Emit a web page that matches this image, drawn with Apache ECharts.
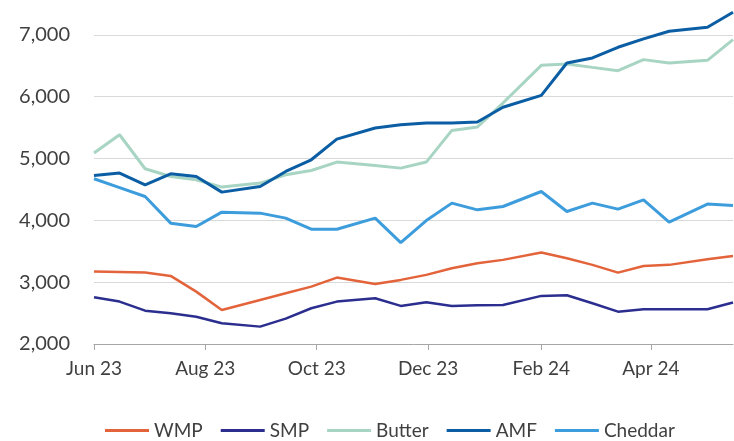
<!DOCTYPE html>
<html>
<head>
<meta charset="utf-8">
<script src="https://cdn.jsdelivr.net/npm/echarts@6/dist/echarts.min.js"></script>
<style>html,body{margin:0;padding:0;background:#fff}#c{width:734px;height:441px}</style>
</head>
<body>
<div id="c"></div>
<script>
var dates = ['2023-06-06','2023-06-20','2023-07-04','2023-07-18','2023-08-01','2023-08-15','2023-09-05','2023-09-19','2023-10-03','2023-10-17','2023-11-07','2023-11-21','2023-12-05','2023-12-19','2024-01-02','2024-01-16','2024-02-06','2024-02-20','2024-03-05','2024-03-19','2024-04-02','2024-04-16','2024-05-07','2024-05-21'];
var wmp = [3171,3163,3155,3101,2847,2551,2713,2820,2928,3074,2972,3037,3118,3226,3307,3361,3479,3388,3280,3155,3263,3280,3372,3425];
var smp = [2756,2686,2539,2496,2442,2335,2281,2410,2578,2686,2740,2616,2676,2616,2627,2632,2778,2789,2659,2523,2562,2562,2562,2670];
var butter = [5089,5385,4835,4710,4656,4538,4603,4737,4807,4943,4888,4845,4943,5455,5510,5898,6508,6530,6475,6422,6600,6546,6589,6924];
var amf = [4727,4765,4575,4754,4710,4457,4548,4791,4980,5315,5494,5547,5575,5575,5591,5830,6022,6546,6627,6800,6935,7059,7124,7366];
var cheddar = [4673,4530,4386,3955,3900,4133,4117,4036,3857,3857,4036,3641,3997,4279,4170,4224,4467,4143,4279,4182,4332,3971,4263,4241];
var xTickDates = ['2023-06-06','2023-08-06','2023-10-06','2023-12-06','2024-02-06','2024-04-06'];
var yTicks = [2000,3000,4000,5000,6000,7000];
var seriesNames = ['WMP','SMP','Butter','AMF','Cheddar'];
var colors = ['#E3633A','#2B2E8F','#A8D5C3','#0B5EA3','#3D9DDC'];

function ts(s){var p=s.split('-');return Date.UTC(+p[0],+p[1]-1,+p[2]);}
var months=['Jan','Feb','Mar','Apr','May','Jun','Jul','Aug','Sep','Oct','Nov','Dec'];
function pair(arr){return dates.map(function(d,i){return [ts(d),arr[i]];});}
var all=[wmp,smp,butter,amf,cheddar];
var font='Lato';
var chart=echarts.init(document.getElementById('c'));
chart.setOption({
  animation:false,
  color:colors,
  grid:{left:94,right:1,top:4,bottom:97,containLabel:false},
  legend:{left:100,top:416,icon:'rect',itemWidth:44,itemHeight:3,itemGap:18,
    textStyle:{fontFamily:font,fontSize:19,color:'#404040'},
    data:seriesNames},
  xAxis:{type:'value',min:ts(dates[0]),max:ts(dates[dates.length-1]),
    axisLine:{lineStyle:{color:'#a6a6a6',width:1}},
    axisTick:{show:true,length:6,lineStyle:{color:'#a6a6a6'},customValues:xTickDates.map(ts)},
    axisLabel:{customValues:xTickDates.map(ts),fontFamily:font,fontSize:19,color:'#404040',margin:15,
      formatter:function(v){var d=new Date(v);return months[d.getUTCMonth()]+' '+String(d.getUTCFullYear()).slice(2);}},
    splitLine:{show:false}},
  yAxis:{type:'value',min:2000,max:7500,
    axisLine:{show:false},
    axisTick:{show:false,customValues:yTicks},
    axisLabel:{customValues:yTicks,fontFamily:font,fontSize:20,color:'#404040',margin:24,
      formatter:function(v){return v.toLocaleString('en-US');}},
    splitLine:{lineStyle:{color:'#d9d9d9',width:1}}},
  series:seriesNames.map(function(n,i){return {name:n,type:'line',symbol:'none',data:pair(all[i]),
    lineStyle:{width:(i<2?2.5:3),color:colors[i]},itemStyle:{color:colors[i]}};})
});
</script>
</body>
</html>
